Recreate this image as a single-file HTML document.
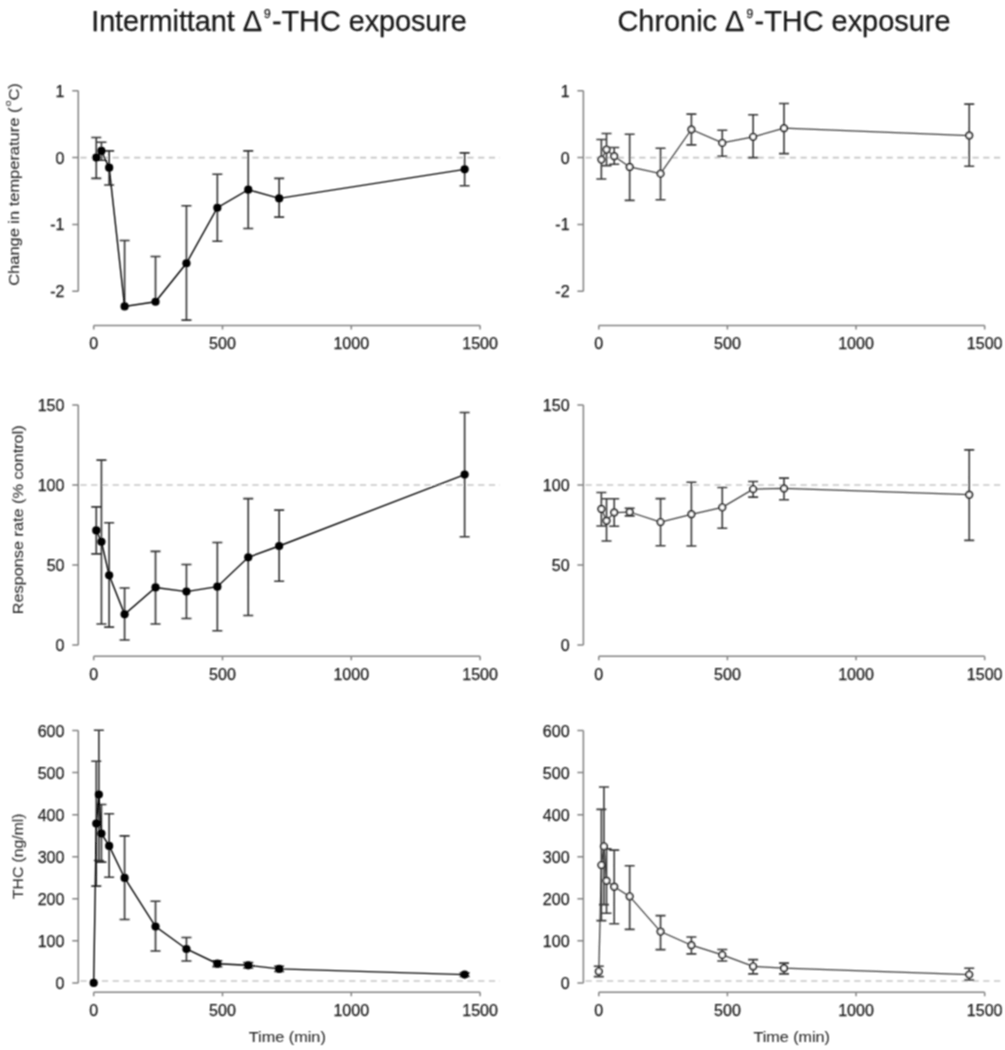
<!DOCTYPE html>
<html><head><meta charset="utf-8"><title>THC exposure</title><style>
html,body{margin:0;padding:0;background:#fff;}
svg{display:block;}
text{font-family:"Liberation Sans",sans-serif;}
.tl{font-size:17px;fill:#1a1a1a;stroke:#1a1a1a;stroke-width:0.25px;}
.ti{font-size:28.9px;fill:#151515;stroke:#151515;stroke-width:0.25px;}
.yl{font-size:14.5px;fill:#2c2c2c;stroke:#2c2c2c;stroke-width:0.1px;}
</style></head><body>
<svg width="1005" height="1050" viewBox="0 0 1005 1050">
<defs><filter id="fT" filterUnits="userSpaceOnUse" x="0" y="0" width="1005" height="1050"><feGaussianBlur stdDeviation="1"/></filter><filter id="fL" filterUnits="userSpaceOnUse" x="0" y="0" width="1005" height="1050"><feConvolveMatrix order="3" kernelMatrix="1 2 1 2 4 2 1 2 1" edgeMode="none"/></filter></defs>
<rect width="1005" height="1050" fill="#fff"/>
<g filter="url(#fL)">
<line x1="78.3" y1="157.6" x2="500" y2="157.6" stroke="#c6c6c6" stroke-width="1.6" stroke-dasharray="6.2 4.55" stroke-dashoffset="8.65"/>
<path d="M78.3 90.73V291.34M78.3 90.73h-6M78.3 157.6h-6M78.3 224.47h-6M78.3 291.34h-6" stroke="#828282" stroke-width="1.5" fill="none"/>
<path d="M93.7 325.5H480.1M93.7 325.5v4M222.5 325.5v4M351.3 325.5v4M480.1 325.5v4" stroke="#828282" stroke-width="1.5" fill="none"/>
<path d="M96.28 157.6V137.54M91.28 137.54h10M96.28 157.6V178.33M91.28 178.33h10M101.43 150.91V142.22M96.43 142.22h10M101.43 150.91V160.27M96.43 160.27h10M109.16 167.63V150.91M104.16 150.91h10M109.16 167.63V185.02M104.16 185.02h10M124.61 306.39V240.52M119.61 240.52h10M155.52 301.77V256.57M150.52 256.57h10M186.44 263.25V205.75M181.44 205.75h10M186.44 263.25V320.09M181.44 320.09h10M217.35 207.75V174.32M212.35 174.32h10M217.35 207.75V241.19M212.35 241.19h10M248.26 189.7V150.91M243.26 150.91h10M248.26 189.7V228.48M243.26 228.48h10M279.17 198.39V178.33M274.17 178.33h10M279.17 198.39V217.11M274.17 217.11h10M464.64 169.37V152.92M459.64 152.92h10M464.64 169.37V185.69M459.64 185.69h10" stroke="#303030" stroke-width="1.6" fill="none"/>
<polyline points="96.28,157.6 101.43,150.91 109.16,167.63 124.61,306.39 155.52,301.77 186.44,263.25 217.35,207.75 248.26,189.7 279.17,198.39 464.64,169.37" stroke="#000000" stroke-width="1.4" fill="none"/>
<circle cx="96.28" cy="157.6" r="4.1" fill="#000"/>
<circle cx="101.43" cy="150.91" r="4.1" fill="#000"/>
<circle cx="109.16" cy="167.63" r="4.1" fill="#000"/>
<circle cx="124.61" cy="306.39" r="4.1" fill="#000"/>
<circle cx="155.52" cy="301.77" r="4.1" fill="#000"/>
<circle cx="186.44" cy="263.25" r="4.1" fill="#000"/>
<circle cx="217.35" cy="207.75" r="4.1" fill="#000"/>
<circle cx="248.26" cy="189.7" r="4.1" fill="#000"/>
<circle cx="279.17" cy="198.39" r="4.1" fill="#000"/>
<circle cx="464.64" cy="169.37" r="4.1" fill="#000"/>
<line x1="583.4" y1="157.6" x2="1002" y2="157.6" stroke="#c6c6c6" stroke-width="1.6" stroke-dasharray="6.2 4.55" stroke-dashoffset="8.65"/>
<path d="M583.4 90.73V291.34M583.4 90.73h-6M583.4 157.6h-6M583.4 224.47h-6M583.4 291.34h-6" stroke="#828282" stroke-width="1.5" fill="none"/>
<path d="M598.8 325.5H984.66M598.8 325.5v4M727.42 325.5v4M856.04 325.5v4M984.66 325.5v4" stroke="#828282" stroke-width="1.5" fill="none"/>
<path d="M601.37 159.61V139.55M596.37 139.55h10M601.37 159.61V179M596.37 179h10M606.52 149.58V133.53M601.52 133.53h10M606.52 149.58V165.62M601.52 165.62h10M614.23 156.26V147.57M609.23 147.57h10M614.23 156.26V164.29M609.23 164.29h10M629.67 166.96V134.2M624.67 134.2h10M629.67 166.96V200.4M624.67 200.4h10M660.54 173.65V148.24M655.54 148.24h10M660.54 173.65V199.73M655.54 199.73h10M691.41 129.51V114.13M686.41 114.13h10M691.41 129.51V144.89M686.41 144.89h10M722.28 142.89V130.18M717.28 130.18h10M722.28 142.89V156.26M717.28 156.26h10M753.14 136.87V114.8M748.14 114.8h10M753.14 136.87V157.6M748.14 157.6h10M784.01 128.18V103.44M779.01 103.44h10M784.01 128.18V153.59M779.01 153.59h10M969.23 135.53V104.1M964.23 104.1h10M969.23 135.53V166.29M964.23 166.29h10" stroke="#383838" stroke-width="1.6" fill="none"/>
<polyline points="601.37,159.61 606.52,149.58 614.23,156.26 629.67,166.96 660.54,173.65 691.41,129.51 722.28,142.89 753.14,136.87 784.01,128.18 969.23,135.53" stroke="#3a3a3a" stroke-width="1.25" fill="none"/>
<circle cx="601.37" cy="159.61" r="3.25" fill="#fff" stroke="#3a3a3a" stroke-width="1.9"/>
<circle cx="606.52" cy="149.58" r="3.25" fill="#fff" stroke="#3a3a3a" stroke-width="1.9"/>
<circle cx="614.23" cy="156.26" r="3.25" fill="#fff" stroke="#3a3a3a" stroke-width="1.9"/>
<circle cx="629.67" cy="166.96" r="3.25" fill="#fff" stroke="#3a3a3a" stroke-width="1.9"/>
<circle cx="660.54" cy="173.65" r="3.25" fill="#fff" stroke="#3a3a3a" stroke-width="1.9"/>
<circle cx="691.41" cy="129.51" r="3.25" fill="#fff" stroke="#3a3a3a" stroke-width="1.9"/>
<circle cx="722.28" cy="142.89" r="3.25" fill="#fff" stroke="#3a3a3a" stroke-width="1.9"/>
<circle cx="753.14" cy="136.87" r="3.25" fill="#fff" stroke="#3a3a3a" stroke-width="1.9"/>
<circle cx="784.01" cy="128.18" r="3.25" fill="#fff" stroke="#3a3a3a" stroke-width="1.9"/>
<circle cx="969.23" cy="135.53" r="3.25" fill="#fff" stroke="#3a3a3a" stroke-width="1.9"/>
<line x1="78.3" y1="484.97" x2="500" y2="484.97" stroke="#c6c6c6" stroke-width="1.6" stroke-dasharray="6.2 4.55" stroke-dashoffset="8.65"/>
<path d="M78.3 404.91V645.1M78.3 404.91h-6M78.3 484.97h-6M78.3 565.04h-6M78.3 645.1h-6" stroke="#828282" stroke-width="1.5" fill="none"/>
<path d="M93.7 656.2H480.1M93.7 656.2v4M222.5 656.2v4M351.3 656.2v4M480.1 656.2v4" stroke="#828282" stroke-width="1.5" fill="none"/>
<path d="M96.28 530.45V506.91M91.28 506.91h10M96.28 530.45V553.83M91.28 553.83h10M101.43 541.82V460.15M96.43 460.15h10M101.43 541.82V623.96M96.43 623.96h10M109.16 575.28V522.76M104.16 522.76h10M109.16 575.28V627.17M104.16 627.17h10M124.61 614.36V587.93M119.61 587.93h10M124.61 614.36V639.98M119.61 639.98h10M155.52 587.45V551.42M150.52 551.42h10M155.52 587.45V623.96M150.52 623.96h10M186.44 591.62V564.55M181.44 564.55h10M186.44 591.62V618.52M181.44 618.52h10M217.35 586.65V542.46M212.35 542.46h10M217.35 586.65V630.69M212.35 630.69h10M248.26 557.35V498.58M243.26 498.58h10M248.26 557.35V615.48M243.26 615.48h10M279.17 545.98V510.11M274.17 510.11h10M279.17 545.98V581.21M274.17 581.21h10M464.64 474.56V412.43M459.64 412.43h10M464.64 474.56V536.69M459.64 536.69h10" stroke="#303030" stroke-width="1.6" fill="none"/>
<polyline points="96.28,530.45 101.43,541.82 109.16,575.28 124.61,614.36 155.52,587.45 186.44,591.62 217.35,586.65 248.26,557.35 279.17,545.98 464.64,474.56" stroke="#000000" stroke-width="1.4" fill="none"/>
<circle cx="96.28" cy="530.45" r="4.1" fill="#000"/>
<circle cx="101.43" cy="541.82" r="4.1" fill="#000"/>
<circle cx="109.16" cy="575.28" r="4.1" fill="#000"/>
<circle cx="124.61" cy="614.36" r="4.1" fill="#000"/>
<circle cx="155.52" cy="587.45" r="4.1" fill="#000"/>
<circle cx="186.44" cy="591.62" r="4.1" fill="#000"/>
<circle cx="217.35" cy="586.65" r="4.1" fill="#000"/>
<circle cx="248.26" cy="557.35" r="4.1" fill="#000"/>
<circle cx="279.17" cy="545.98" r="4.1" fill="#000"/>
<circle cx="464.64" cy="474.56" r="4.1" fill="#000"/>
<line x1="583.4" y1="484.97" x2="1002" y2="484.97" stroke="#c6c6c6" stroke-width="1.6" stroke-dasharray="6.2 4.55" stroke-dashoffset="8.65"/>
<path d="M583.4 404.91V645.1M583.4 404.91h-6M583.4 484.97h-6M583.4 565.04h-6M583.4 645.1h-6" stroke="#828282" stroke-width="1.5" fill="none"/>
<path d="M598.8 656.2H984.66M598.8 656.2v4M727.42 656.2v4M856.04 656.2v4M984.66 656.2v4" stroke="#828282" stroke-width="1.5" fill="none"/>
<path d="M601.37 508.99V492.5M596.37 492.5h10M601.37 508.99V525.96M596.37 525.96h10M606.52 520.68V498.74M601.52 498.74h10M606.52 520.68V541.02M601.52 541.02h10M614.23 512.51V498.74M609.23 498.74h10M614.23 512.51V526.28M609.23 526.28h10M629.67 512.03V508.19M624.67 508.19h10M629.67 512.03V515.88M624.67 515.88h10M660.54 522.12V498.58M655.54 498.58h10M660.54 522.12V545.82M655.54 545.82h10M691.41 514.27V482.25M686.41 482.25h10M691.41 514.27V545.98M686.41 545.98h10M722.28 507.39V487.53M717.28 487.53h10M722.28 507.39V528.21M717.28 528.21h10M753.14 489.13V481.45M748.14 481.45h10M753.14 489.13V497.14M748.14 497.14h10M784.01 488.49V478.08M779.01 478.08h10M784.01 488.49V499.7M779.01 499.7h10M969.23 494.74V449.9M964.23 449.9h10M969.23 494.74V540.37M964.23 540.37h10" stroke="#383838" stroke-width="1.6" fill="none"/>
<polyline points="601.37,508.99 606.52,520.68 614.23,512.51 629.67,512.03 660.54,522.12 691.41,514.27 722.28,507.39 753.14,489.13 784.01,488.49 969.23,494.74" stroke="#3a3a3a" stroke-width="1.25" fill="none"/>
<circle cx="601.37" cy="508.99" r="3.25" fill="#fff" stroke="#3a3a3a" stroke-width="1.9"/>
<circle cx="606.52" cy="520.68" r="3.25" fill="#fff" stroke="#3a3a3a" stroke-width="1.9"/>
<circle cx="614.23" cy="512.51" r="3.25" fill="#fff" stroke="#3a3a3a" stroke-width="1.9"/>
<circle cx="629.67" cy="512.03" r="3.25" fill="#fff" stroke="#3a3a3a" stroke-width="1.9"/>
<circle cx="660.54" cy="522.12" r="3.25" fill="#fff" stroke="#3a3a3a" stroke-width="1.9"/>
<circle cx="691.41" cy="514.27" r="3.25" fill="#fff" stroke="#3a3a3a" stroke-width="1.9"/>
<circle cx="722.28" cy="507.39" r="3.25" fill="#fff" stroke="#3a3a3a" stroke-width="1.9"/>
<circle cx="753.14" cy="489.13" r="3.25" fill="#fff" stroke="#3a3a3a" stroke-width="1.9"/>
<circle cx="784.01" cy="488.49" r="3.25" fill="#fff" stroke="#3a3a3a" stroke-width="1.9"/>
<circle cx="969.23" cy="494.74" r="3.25" fill="#fff" stroke="#3a3a3a" stroke-width="1.9"/>
<line x1="78.3" y1="981.01" x2="500" y2="981.01" stroke="#c6c6c6" stroke-width="1.6" stroke-dasharray="6.2 4.55" stroke-dashoffset="8.65"/>
<path d="M78.3 730.5V982.9M78.3 730.5h-6M78.3 772.56h-6M78.3 814.63h-6M78.3 856.7h-6M78.3 898.77h-6M78.3 940.83h-6M78.3 982.9h-6" stroke="#828282" stroke-width="1.5" fill="none"/>
<path d="M93.7 992.3H480.1M93.7 992.3v4M222.5 992.3v4M351.3 992.3v4M480.1 992.3v4" stroke="#828282" stroke-width="1.5" fill="none"/>
<path d="M96.28 823.59V761.21M91.28 761.21h10M96.28 823.59V886.15M91.28 886.15h10M98.85 794.48V730.29M93.85 730.29h10M98.85 794.48V860.49M93.85 860.49h10M101.43 833.56V804.54M96.43 804.54h10M101.43 833.56V862.17M96.43 862.17h10M109.16 845.89V813.79M104.16 813.79h10M109.16 845.89V877.31M104.16 877.31h10M124.61 877.94V835.92M119.61 835.92h10M124.61 877.94V919.51M119.61 919.51h10M155.52 926.53V901.29M150.52 901.29h10M155.52 926.53V951.01M150.52 951.01h10M186.44 948.99V937.47M181.44 937.47h10M186.44 948.99V961.03M181.44 961.03h10M217.35 963.72V960.77M212.35 960.77h10M217.35 963.72V966.66M212.35 966.66h10M248.26 965.32V962.58M243.26 962.58h10M248.26 965.32V968.05M243.26 968.05h10M279.17 968.89V966.24M274.17 966.24h10M279.17 968.89V971.54M274.17 971.54h10M464.64 974.61V972.85M459.64 972.85h10M464.64 974.61V976.38M459.64 976.38h10" stroke="#303030" stroke-width="1.6" fill="none"/>
<polyline points="93.7,982.9 96.28,823.59 98.85,794.48 101.43,833.56 109.16,845.89 124.61,877.94 155.52,926.53 186.44,948.99 217.35,963.72 248.26,965.32 279.17,968.89 464.64,974.61" stroke="#000000" stroke-width="1.4" fill="none"/>
<circle cx="93.7" cy="982.9" r="4.1" fill="#000"/>
<circle cx="96.28" cy="823.59" r="4.1" fill="#000"/>
<circle cx="98.85" cy="794.48" r="4.1" fill="#000"/>
<circle cx="101.43" cy="833.56" r="4.1" fill="#000"/>
<circle cx="109.16" cy="845.89" r="4.1" fill="#000"/>
<circle cx="124.61" cy="877.94" r="4.1" fill="#000"/>
<circle cx="155.52" cy="926.53" r="4.1" fill="#000"/>
<circle cx="186.44" cy="948.99" r="4.1" fill="#000"/>
<circle cx="217.35" cy="963.72" r="4.1" fill="#000"/>
<circle cx="248.26" cy="965.32" r="4.1" fill="#000"/>
<circle cx="279.17" cy="968.89" r="4.1" fill="#000"/>
<circle cx="464.64" cy="974.61" r="4.1" fill="#000"/>
<line x1="583.4" y1="981.01" x2="1002" y2="981.01" stroke="#c6c6c6" stroke-width="1.6" stroke-dasharray="6.2 4.55" stroke-dashoffset="8.65"/>
<path d="M583.4 730.5V982.9M583.4 730.5h-6M583.4 772.56h-6M583.4 814.63h-6M583.4 856.7h-6M583.4 898.77h-6M583.4 940.83h-6M583.4 982.9h-6" stroke="#828282" stroke-width="1.5" fill="none"/>
<path d="M598.8 992.3H984.66M598.8 992.3v4M727.42 992.3v4M856.04 992.3v4M984.66 992.3v4" stroke="#828282" stroke-width="1.5" fill="none"/>
<path d="M598.8 971.42V966.24M593.8 966.24h10M598.8 971.42V976.59M593.8 976.59h10M601.37 865.11V809.33M596.37 809.33h10M601.37 865.11V920.64M596.37 920.64h10M603.94 846.39V786.99M598.94 786.99h10M603.94 846.39V904.66M598.94 904.66h10M606.52 880.68V848.92M601.52 848.92h10M606.52 880.68V913.28M601.52 913.28h10M614.23 886.82V850.09M609.23 850.09h10M614.23 886.82V923.71M609.23 923.71h10M629.67 896.41V865.7M624.67 865.7h10M629.67 896.41V929.39M624.67 929.39h10M660.54 931.58V915.59M655.54 915.59h10M660.54 931.58V949.67M655.54 949.67h10M691.41 945.21V937.05M686.41 937.05h10M691.41 945.21V953.87M686.41 953.87h10M722.28 954.88V949.5M717.28 949.5h10M722.28 954.88V961.03M717.28 961.03h10M753.14 966.41V959.59M748.14 959.59h10M753.14 966.41V973.9M748.14 973.9h10M784.01 968.18V963.13M779.01 963.13h10M784.01 968.18V973.9M779.01 973.9h10M969.23 974.61V968.18M964.23 968.18h10M969.23 974.61V979.96M964.23 979.96h10" stroke="#383838" stroke-width="1.6" fill="none"/>
<polyline points="598.8,971.42 601.37,865.11 603.94,846.39 606.52,880.68 614.23,886.82 629.67,896.41 660.54,931.58 691.41,945.21 722.28,954.88 753.14,966.41 784.01,968.18 969.23,974.61" stroke="#3a3a3a" stroke-width="1.25" fill="none"/>
<circle cx="598.8" cy="971.42" r="3.25" fill="#fff" stroke="#3a3a3a" stroke-width="1.9"/>
<circle cx="601.37" cy="865.11" r="3.25" fill="#fff" stroke="#3a3a3a" stroke-width="1.9"/>
<circle cx="603.94" cy="846.39" r="3.25" fill="#fff" stroke="#3a3a3a" stroke-width="1.9"/>
<circle cx="606.52" cy="880.68" r="3.25" fill="#fff" stroke="#3a3a3a" stroke-width="1.9"/>
<circle cx="614.23" cy="886.82" r="3.25" fill="#fff" stroke="#3a3a3a" stroke-width="1.9"/>
<circle cx="629.67" cy="896.41" r="3.25" fill="#fff" stroke="#3a3a3a" stroke-width="1.9"/>
<circle cx="660.54" cy="931.58" r="3.25" fill="#fff" stroke="#3a3a3a" stroke-width="1.9"/>
<circle cx="691.41" cy="945.21" r="3.25" fill="#fff" stroke="#3a3a3a" stroke-width="1.9"/>
<circle cx="722.28" cy="954.88" r="3.25" fill="#fff" stroke="#3a3a3a" stroke-width="1.9"/>
<circle cx="753.14" cy="966.41" r="3.25" fill="#fff" stroke="#3a3a3a" stroke-width="1.9"/>
<circle cx="784.01" cy="968.18" r="3.25" fill="#fff" stroke="#3a3a3a" stroke-width="1.9"/>
<circle cx="969.23" cy="974.61" r="3.25" fill="#fff" stroke="#3a3a3a" stroke-width="1.9"/>
<text x="91.2" y="30.6" class="ti" letter-spacing="-0.08">Intermittant Δ<tspan dx="2" dy="-12.5" font-size="12">9</tspan><tspan dx="1.5" dy="12.5">-THC exposure</tspan></text>
<text x="617.5" y="30.6" class="ti">Chronic Δ<tspan dx="2" dy="-12.5" font-size="12">9</tspan><tspan dx="1.5" dy="12.5">-THC exposure</tspan></text>
</g>
<g filter="url(#fL)">
<text transform="translate(19.2,184.5) rotate(-90)" text-anchor="middle" class="yl" textLength="202.5" lengthAdjust="spacingAndGlyphs">Change in temperature (<tspan dx="1.2" dy="-8.5" font-size="9">o</tspan><tspan dy="8.5">C)</tspan></text>
<text transform="translate(23,519.8) rotate(-90)" text-anchor="middle" class="yl" textLength="189" lengthAdjust="spacingAndGlyphs">Response rate (% control)</text>
<text transform="translate(23,856.3) rotate(-90)" text-anchor="middle" class="yl" textLength="85.5" lengthAdjust="spacingAndGlyphs">THC (ng/ml)</text>
<text x="287.3" y="1042" text-anchor="middle" class="yl" textLength="77" lengthAdjust="spacingAndGlyphs">Time (min)</text>
<text x="791.7" y="1042" text-anchor="middle" class="yl" textLength="76.5" lengthAdjust="spacingAndGlyphs">Time (min)</text>
<text x="64.5" y="96.73" text-anchor="end" class="tl" textLength="8.93" lengthAdjust="spacingAndGlyphs">1</text>
<text x="64.5" y="163.6" text-anchor="end" class="tl" textLength="8.93" lengthAdjust="spacingAndGlyphs">0</text>
<text x="64.5" y="230.47" text-anchor="end" class="tl" textLength="14.28" lengthAdjust="spacingAndGlyphs">-1</text>
<text x="64.5" y="297.34" text-anchor="end" class="tl" textLength="14.28" lengthAdjust="spacingAndGlyphs">-2</text>
<text x="93.7" y="349.4" text-anchor="middle" class="tl" textLength="8.93" lengthAdjust="spacingAndGlyphs">0</text>
<text x="222.5" y="349.4" text-anchor="middle" class="tl" textLength="26.8" lengthAdjust="spacingAndGlyphs">500</text>
<text x="351.3" y="349.4" text-anchor="middle" class="tl" textLength="35.73" lengthAdjust="spacingAndGlyphs">1000</text>
<text x="480.1" y="349.4" text-anchor="middle" class="tl" textLength="35.73" lengthAdjust="spacingAndGlyphs">1500</text>
<text x="569.6" y="96.73" text-anchor="end" class="tl" textLength="8.93" lengthAdjust="spacingAndGlyphs">1</text>
<text x="569.6" y="163.6" text-anchor="end" class="tl" textLength="8.93" lengthAdjust="spacingAndGlyphs">0</text>
<text x="569.6" y="230.47" text-anchor="end" class="tl" textLength="14.28" lengthAdjust="spacingAndGlyphs">-1</text>
<text x="569.6" y="297.34" text-anchor="end" class="tl" textLength="14.28" lengthAdjust="spacingAndGlyphs">-2</text>
<text x="598.8" y="349.4" text-anchor="middle" class="tl" textLength="8.93" lengthAdjust="spacingAndGlyphs">0</text>
<text x="727.42" y="349.4" text-anchor="middle" class="tl" textLength="26.8" lengthAdjust="spacingAndGlyphs">500</text>
<text x="856.04" y="349.4" text-anchor="middle" class="tl" textLength="35.73" lengthAdjust="spacingAndGlyphs">1000</text>
<text x="984.66" y="349.4" text-anchor="middle" class="tl" textLength="35.73" lengthAdjust="spacingAndGlyphs">1500</text>
<text x="64.5" y="410.91" text-anchor="end" class="tl" textLength="26.8" lengthAdjust="spacingAndGlyphs">150</text>
<text x="64.5" y="490.97" text-anchor="end" class="tl" textLength="26.8" lengthAdjust="spacingAndGlyphs">100</text>
<text x="64.5" y="571.04" text-anchor="end" class="tl" textLength="17.86" lengthAdjust="spacingAndGlyphs">50</text>
<text x="64.5" y="651.1" text-anchor="end" class="tl" textLength="8.93" lengthAdjust="spacingAndGlyphs">0</text>
<text x="93.7" y="680.1" text-anchor="middle" class="tl" textLength="8.93" lengthAdjust="spacingAndGlyphs">0</text>
<text x="222.5" y="680.1" text-anchor="middle" class="tl" textLength="26.8" lengthAdjust="spacingAndGlyphs">500</text>
<text x="351.3" y="680.1" text-anchor="middle" class="tl" textLength="35.73" lengthAdjust="spacingAndGlyphs">1000</text>
<text x="480.1" y="680.1" text-anchor="middle" class="tl" textLength="35.73" lengthAdjust="spacingAndGlyphs">1500</text>
<text x="569.6" y="410.91" text-anchor="end" class="tl" textLength="26.8" lengthAdjust="spacingAndGlyphs">150</text>
<text x="569.6" y="490.97" text-anchor="end" class="tl" textLength="26.8" lengthAdjust="spacingAndGlyphs">100</text>
<text x="569.6" y="571.04" text-anchor="end" class="tl" textLength="17.86" lengthAdjust="spacingAndGlyphs">50</text>
<text x="569.6" y="651.1" text-anchor="end" class="tl" textLength="8.93" lengthAdjust="spacingAndGlyphs">0</text>
<text x="598.8" y="680.1" text-anchor="middle" class="tl" textLength="8.93" lengthAdjust="spacingAndGlyphs">0</text>
<text x="727.42" y="680.1" text-anchor="middle" class="tl" textLength="26.8" lengthAdjust="spacingAndGlyphs">500</text>
<text x="856.04" y="680.1" text-anchor="middle" class="tl" textLength="35.73" lengthAdjust="spacingAndGlyphs">1000</text>
<text x="984.66" y="680.1" text-anchor="middle" class="tl" textLength="35.73" lengthAdjust="spacingAndGlyphs">1500</text>
<text x="64.5" y="736.5" text-anchor="end" class="tl" textLength="26.8" lengthAdjust="spacingAndGlyphs">600</text>
<text x="64.5" y="778.56" text-anchor="end" class="tl" textLength="26.8" lengthAdjust="spacingAndGlyphs">500</text>
<text x="64.5" y="820.63" text-anchor="end" class="tl" textLength="26.8" lengthAdjust="spacingAndGlyphs">400</text>
<text x="64.5" y="862.7" text-anchor="end" class="tl" textLength="26.8" lengthAdjust="spacingAndGlyphs">300</text>
<text x="64.5" y="904.77" text-anchor="end" class="tl" textLength="26.8" lengthAdjust="spacingAndGlyphs">200</text>
<text x="64.5" y="946.83" text-anchor="end" class="tl" textLength="26.8" lengthAdjust="spacingAndGlyphs">100</text>
<text x="64.5" y="988.9" text-anchor="end" class="tl" textLength="8.93" lengthAdjust="spacingAndGlyphs">0</text>
<text x="93.7" y="1016.2" text-anchor="middle" class="tl" textLength="8.93" lengthAdjust="spacingAndGlyphs">0</text>
<text x="222.5" y="1016.2" text-anchor="middle" class="tl" textLength="26.8" lengthAdjust="spacingAndGlyphs">500</text>
<text x="351.3" y="1016.2" text-anchor="middle" class="tl" textLength="35.73" lengthAdjust="spacingAndGlyphs">1000</text>
<text x="480.1" y="1016.2" text-anchor="middle" class="tl" textLength="35.73" lengthAdjust="spacingAndGlyphs">1500</text>
<text x="569.6" y="736.5" text-anchor="end" class="tl" textLength="26.8" lengthAdjust="spacingAndGlyphs">600</text>
<text x="569.6" y="778.56" text-anchor="end" class="tl" textLength="26.8" lengthAdjust="spacingAndGlyphs">500</text>
<text x="569.6" y="820.63" text-anchor="end" class="tl" textLength="26.8" lengthAdjust="spacingAndGlyphs">400</text>
<text x="569.6" y="862.7" text-anchor="end" class="tl" textLength="26.8" lengthAdjust="spacingAndGlyphs">300</text>
<text x="569.6" y="904.77" text-anchor="end" class="tl" textLength="26.8" lengthAdjust="spacingAndGlyphs">200</text>
<text x="569.6" y="946.83" text-anchor="end" class="tl" textLength="26.8" lengthAdjust="spacingAndGlyphs">100</text>
<text x="569.6" y="988.9" text-anchor="end" class="tl" textLength="8.93" lengthAdjust="spacingAndGlyphs">0</text>
<text x="598.8" y="1016.2" text-anchor="middle" class="tl" textLength="8.93" lengthAdjust="spacingAndGlyphs">0</text>
<text x="727.42" y="1016.2" text-anchor="middle" class="tl" textLength="26.8" lengthAdjust="spacingAndGlyphs">500</text>
<text x="856.04" y="1016.2" text-anchor="middle" class="tl" textLength="35.73" lengthAdjust="spacingAndGlyphs">1000</text>
<text x="984.66" y="1016.2" text-anchor="middle" class="tl" textLength="35.73" lengthAdjust="spacingAndGlyphs">1500</text>
</g>
</svg></body></html>
